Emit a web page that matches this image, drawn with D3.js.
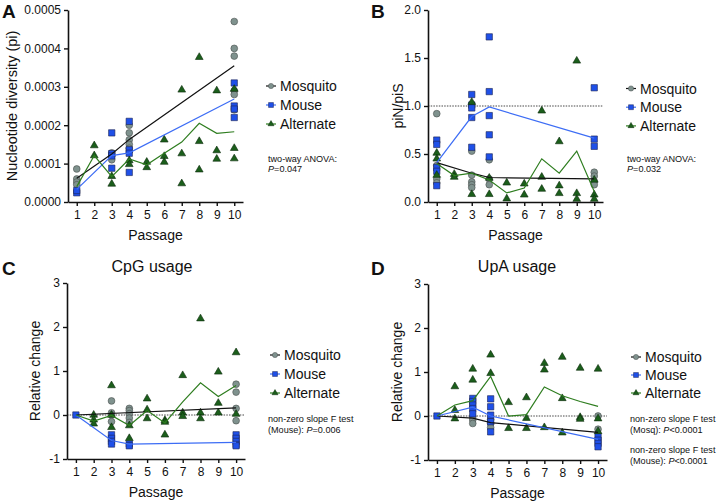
<!DOCTYPE html>
<html><head><meta charset="utf-8">
<script src="https://cdn.jsdelivr.net/npm/d3@7"></script>
<style>
html,body{margin:0;padding:0;background:#fff;}
text{font-family:"Liberation Sans",Arial,Helvetica,sans-serif;fill:#111;}
</style></head>
<body><svg id="c" width="720" height="502"></svg>
<script>
// ---------- DATA ----------
const passages = [1,2,3,4,5,6,7,8,9,10];
const seriesNames = ["Mosquito","Mouse","Alternate"];

// Panel A: nucleotide diversity (pi)
const aMosquito = [[1,0.000086],[1,0.00006],[1,0.000052],[1,0.000045],[3,0.000128],[3,0.00012],[3,0.00011],[4,0.0002],[4,0.00018],[4,0.000162],[4,0.00015],[4,0.00014],[10,0.00047],[10,0.0004],[10,0.00038],[10,0.00029],[10,0.00028],[10,0.00024]];
const aMouse = [[1,0.000024],[1,0.00003],[3,0.00018],[3,0.000126],[3,0.00012],[3,0.000088],[4,0.00021],[4,0.000136],[4,0.000127],[4,0.000077],[10,0.00031],[10,0.00025],[10,0.000242],[10,0.00022]];
const aAlternate = [[2,0.000147],[2,0.000121],[3,0.000067],[3,0.000047],[4,0.000108],[4,0.000098],[5,0.000104],[5,0.00009],[6,0.000162],[6,0.000119],[6,0.000104],[7,0.000292],[7,0.000126],[7,0.000048],[8,0.000377],[8,0.000158],[8,0.000084],[9,0.00029],[9,0.000134],[9,0.000112],[10,0.000294],[10,0.00014],[10,0.000113]];
const aMosqLine = [[1,0.000062],[3,0.000125],[4,0.000163],[10,0.000355]];
const aMouseLine = [[1,0.000033],[3,0.000121],[4,0.000128],[10,0.000268]];
const aAltLine = [[1,0.00004],[2,0.000121],[3,0.000066],[4,0.000112],[5,0.000097],[6,0.000127],[7,0.000156],[8,0.000205],[9,0.000179],[10,0.000183]];
const aTicks = [0,0.0001,0.0002,0.0003,0.0004,0.0005];

// Panel B: piN/piS
const bMosquito = [[1,0.92],[1,0.38],[1,0.24],[1,0.2],[3,0.53],[3,0.28],[3,0.21],[3,0.18],[3,0.15],[4,0.44],[4,0.24],[4,0.18],[10,0.31],[10,0.27],[10,0.215],[10,0.18]];
const bMouse = [[1,0.645],[1,0.6],[1,0.36],[1,0.32],[1,0.17],[3,1.12],[3,1.01],[3,0.98],[3,0.88],[3,0.57],[4,1.72],[4,1.15],[4,0.9],[4,0.7],[4,0.47],[10,1.19],[10,0.655],[10,0.58]];
const bAlternate = [[1,0.51],[1,0.45],[1,0.28],[2,0.29],[2,0.26],[3,1.04],[3,0.08],[4,0.25],[4,0.08],[5,0.2],[5,0.035],[6,0.19],[6,0.075],[7,0.95],[7,0.26],[7,0.135],[8,0.63],[8,0.17],[8,0.09],[9,1.47],[9,0.09],[9,0.03],[10,0.23],[10,0.075],[10,0.03]];
const bMosqLine = [[1,0.41],[3,0.3],[4,0.255],[10,0.24]];
const bMouseLine = [[1,0.41],[3,0.89],[4,0.99],[10,0.665]];
const bAltLine = [[1,0.4],[2,0.275],[3,0.3],[4,0.23],[5,0.095],[6,0.145],[7,0.45],[8,0.3],[9,0.53],[10,0.11]];
const bTicks = [0,0.5,1,1.5,2];

// Panel C: CpG usage, relative change
const cMosquito = [[3,0.32],[3,0.05],[3,0],[3,-0.15],[4,0.15],[4,0.1],[4,0.03],[4,-0.07],[4,-0.17],[10,0.7],[10,0.52],[10,0.15],[10,-0.13]];
const cMouse = [[1,0],[3,-0.45],[3,-0.53],[3,-0.6],[3,-0.66],[4,-0.66],[4,-0.7],[10,-0.45],[10,-0.53],[10,-0.6],[10,-0.67],[10,-0.7]];
const cAlternate = [[2,0],[2,-0.11],[2,-0.2],[3,0.67],[3,0],[3,-0.28],[4,-0.24],[4,-0.53],[5,0.37],[5,0.12],[5,-0.08],[6,-0.12],[6,-0.16],[6,-0.45],[7,0.9],[7,0.05],[7,-0.03],[8,2.19],[8,0.05],[8,-0.08],[9,0.98],[9,0.27],[9,0.05],[10,1.42],[10,0.02]];
const cMosqLine = [[1,0],[10,0.16]];
const cMouseLine = [[1,0],[3,-0.58],[4,-0.66],[10,-0.62]];
const cAltLine = [[1,0],[2,-0.14],[3,-0.01],[4,-0.24],[5,0.1],[6,-0.18],[7,0.3],[8,0.73],[9,0.42],[10,0.67]];

// Panel D: UpA usage, relative change
const dMosquito = [[3,-0.02],[3,-0.09],[3,-0.17],[4,-0.08],[4,-0.17],[4,-0.26],[10,0.0],[10,-0.3]];
const dMouse = [[1,0],[3,0.4],[3,0.33],[3,0.25],[3,0.17],[3,0.05],[4,0.39],[4,0.21],[4,0.02],[4,-0.13],[4,-0.36],[10,-0.47],[10,-0.55],[10,-0.62],[10,-0.7]];
const dAlternate = [[2,0.67],[2,0.13],[2,-0.06],[3,1.07],[3,0.82],[4,1.39],[4,0.97],[5,0.31],[5,-0.28],[6,0.42],[6,-0.05],[6,-0.28],[7,1.2],[7,1.05],[7,-0.26],[8,1.34],[8,0.4],[8,-0.38],[9,1.09],[9,-0.03],[9,-0.07],[10,1.07],[10,-0.06],[10,-0.35]];
const dMosqLine = [[1,0],[3,-0.05],[4,-0.15],[10,-0.37]];
const dMouseLine = [[1,0],[3,0.2],[4,0.0],[10,-0.53]];
const dAltLine = [[1,0],[2,0.25],[3,0.35],[4,0.9],[5,0],[6,0.03],[7,0.66],[8,0.46],[9,0.33],[10,0.22]];
const relTicks = [-1,0,1,2,3];

// ---------- STYLE ----------
const COL = {
  Mosquito:{fill:"#7f928e",stroke:"#4a4f4e",line:"#111111",sym:d3.symbolCircle,size:36},
  Mouse:{fill:"#1f50e8",stroke:"#1c2450",line:"#3d6df5",sym:d3.symbolSquare,size:40},
  Alternate:{fill:"#1b5e1b",stroke:"#0b2a0b",line:"#2e7d1f",sym:d3.symbolTriangle,size:26}
};

const svg = d3.select("#c");

function panel(cfg){
  const g = svg.append("g");
  const x = d3.scaleLinear().domain([0.5,10.5]).range(cfg.xr);
  const y = d3.scaleLinear().domain(cfg.yd).range(cfg.yr);

  if(cfg.ref!==undefined){
    g.append("line").attr("x1",cfg.xr[0]).attr("x2",cfg.xr[1])
      .attr("y1",y(cfg.ref)).attr("y2",y(cfg.ref))
      .attr("stroke","#333").attr("stroke-width",0.9).attr("stroke-dasharray","1.5,1.2");
  }

  const line = d3.line().x(d=>x(d[0])).y(d=>y(d[1]));
  const lines = [["Mosquito",cfg.mLine],["Mouse",cfg.uLine],["Alternate",cfg.aLine]];
  const pts = [["Mosquito",cfg.m],["Mouse",cfg.u],["Alternate",cfg.a]];

  pts.forEach(([k,data])=>{
    const c = COL[k];
    g.append("g").selectAll("path").data(data).join("path")
      .attr("d",d3.symbol().type(c.sym).size(c.size))
      .attr("transform",d=>`translate(${x(d[0])},${y(d[1])})`)
      .attr("fill",c.fill).attr("stroke",c.stroke).attr("stroke-width",0.6);
  });
  lines.forEach(([k,data])=>{
    g.append("path").datum(data).attr("d",line).attr("fill","none")
      .attr("stroke",COL[k].line).attr("stroke-width",1.2);
  });

  const xa = g.append("g").attr("transform",`translate(0,${cfg.yr[0]})`)
    .call(d3.axisBottom(x).tickValues(passages).tickSize(4).tickSizeOuter(0).tickPadding(4));
  const ya = g.append("g").attr("transform",`translate(${cfg.xr[0]},0)`)
    .call(d3.axisLeft(y).tickValues(cfg.ticks).tickFormat(cfg.fmt).tickSize(4).tickSizeOuter(0).tickPadding(3));
  [xa,ya].forEach(a=>{
    a.select(".domain").attr("stroke","#111").attr("stroke-width",1.6);
    a.selectAll(".tick line").attr("stroke","#111").attr("stroke-width",1.4);
    a.selectAll(".tick text").attr("font-size",12).attr("fill","#111")
      .style("font-family","'Liberation Sans',Arial,sans-serif");
  });

  g.append("text").attr("x",(cfg.xr[0]+cfg.xr[1])/2).attr("y",cfg.yr[0]+38)
    .attr("text-anchor","middle").attr("font-size",14).text("Passage");
  g.append("text").attr("transform",`translate(${cfg.ytx},${(cfg.yr[0]+cfg.yr[1])/2}) rotate(-90)`)
    .attr("text-anchor","middle").attr("font-size",cfg.ytSize||14).text(cfg.ytitle);

  g.append("text").attr("x",cfg.letter[0]).attr("y",cfg.letter[1])
    .attr("font-size",19).attr("font-weight","bold").text(cfg.letterText);
  if(cfg.title){
    g.append("text").attr("x",cfg.title[0]).attr("y",cfg.title[1]).attr("text-anchor","middle")
      .attr("font-size",16).text(cfg.titleText);
  }

  seriesNames.forEach((k,i)=>{
    const c = COL[k];
    const ly = cfg.leg[1] + i*cfg.legStep;
    g.append("line").attr("x1",cfg.leg[0]-5).attr("x2",cfg.leg[0]+5).attr("y1",ly).attr("y2",ly)
      .attr("stroke",c.line).attr("stroke-width",1.2);
    g.append("path").attr("d",d3.symbol().type(c.sym).size(c.size*0.6)())
      .attr("transform",`translate(${cfg.leg[0]},${ly})`)
      .attr("fill",c.fill).attr("stroke",c.stroke).attr("stroke-width",0.5);
    g.append("text").attr("x",cfg.leg[0]+9).attr("y",ly+5).attr("font-size",14).text(k);
  });

  cfg.notes.forEach(n=>{
    const t = g.append("text").attr("x",cfg.noteX).attr("y",n.y).attr("font-size",9.1);
    if(n.pre) t.append("tspan").text(n.pre);
    if(n.p){
      t.append("tspan").attr("font-style","italic").text("P");
      t.append("tspan").text(n.p);
    }
  });
}

const fmtA = d3.format(".4f");
const fmtB = d3.format(".1f");
const fmtRel = d=>String(d);

panel({xr:[68,243], yr:[202,10], yd:[0,0.0005], ticks:aTicks, fmt:fmtA,
  m:aMosquito,u:aMouse,a:aAlternate,mLine:aMosqLine,uLine:aMouseLine,aLine:aAltLine,
  ytitle:"Nucleotide diversity (pi)", ytx:17, ytSize:14.5, letter:[2,18], letterText:"A",
  leg:[271,86], legStep:19, noteX:268,
  notes:[{y:162,pre:"two-way ANOVA:"},{y:172,pre:"",p:"=0.047"}]});

panel({xr:[428,603], yr:[202,10], yd:[0,2], ticks:bTicks, fmt:fmtB, ref:1,
  m:bMosquito,u:bMouse,a:bAlternate,mLine:bMosqLine,uLine:bMouseLine,aLine:bAltLine,
  ytitle:"piN/piS", ytx:403, letter:[371,18], letterText:"B",
  leg:[631,88.5], legStep:18.7, noteX:627,
  notes:[{y:162,pre:"two-way ANOVA:"},{y:172,pre:"",p:"=0.032"}]});

panel({xr:[67,245], yr:[459,283], yd:[-1,3], ticks:relTicks, fmt:fmtRel, ref:0,
  m:cMosquito,u:cMouse,a:cAlternate,mLine:cMosqLine,uLine:cMouseLine,aLine:cAltLine,
  ytitle:"Relative change", ytx:40, letter:[2,275], letterText:"C",
  title:[152,272], titleText:"CpG usage",
  leg:[275,355], legStep:19, noteX:268,
  notes:[{y:422,pre:"non-zero slope F test"},{y:433,pre:"(Mouse): ",p:"=0.006"}]});

panel({xr:[428,607], yr:[460,284], yd:[-1,3], ticks:relTicks, fmt:fmtRel, ref:0,
  m:dMosquito,u:dMouse,a:dAlternate,mLine:dMosqLine,uLine:dMouseLine,aLine:dAltLine,
  ytitle:"Relative change", ytx:402, letter:[371,275], letterText:"D",
  title:[517,272], titleText:"UpA usage",
  leg:[636,357], legStep:18, noteX:630,
  notes:[{y:422,pre:"non-zero slope F test"},{y:433,pre:"(Mosq): ",p:"<0.0001"},
         {y:453,pre:"non-zero slope F test"},{y:464,pre:"(Mouse): ",p:"<0.0001"}]});
</script></body></html>
